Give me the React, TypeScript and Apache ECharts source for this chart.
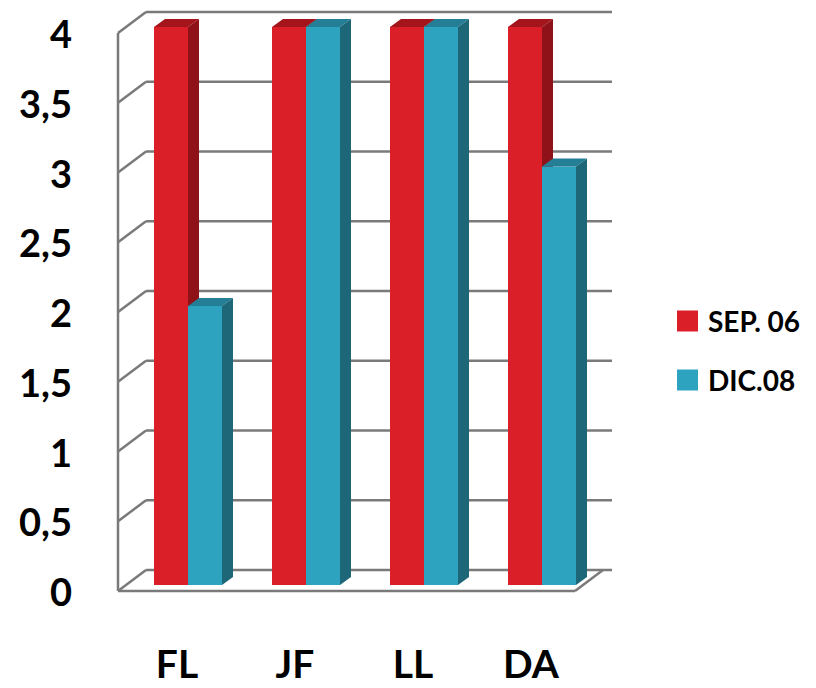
import React, { useEffect, useRef } from "react";
import * as echarts from "echarts";

const categories = ["FL", "JF", "LL", "DA"];
const seriesNames = ["SEP. 06", "DIC.08"];
const sep06 = [4, 4, 4, 4];
const dic08 = [2, 4, 4, 3];
const yTicks = [0, 0.5, 1, 1.5, 2, 2.5, 3, 3.5, 4];

const FONT = "Lato, 'Open Sans', sans-serif";
const DEPTH_X = 28;
const DEPTH_Y = -21;
const BAR_W = 34;
const BAR_DX = 11;
const BAR_DY = -8;
const PLANE_SX = 11;
const PLANE_SY = -6;

const faces = [
  { front: "#DA1F28", top: "#A3141B", side: "#8E1218" },
  { front: "#2EA3C0", top: "#237E96", side: "#1D6778" },
];

function barRender(sIdx: number) {
  return (params: any, api: any) => {
    const cat = api.value(0);
    const v = api.value(1);
    const base = api.coord([cat, 0]);
    const top = api.coord([cat, v]);
    const xL = base[0] - BAR_W + PLANE_SX + sIdx * BAR_W;
    const yT = top[1] + PLANE_SY;
    const yB = base[1] + PLANE_SY;
    const xR = xL + BAR_W;
    const c = faces[sIdx];
    return {
      type: "group",
      children: [
        {
          type: "polygon",
          shape: { points: [[xL, yT], [xR, yT], [xR, yB], [xL, yB]] },
          style: { fill: c.front },
        },
        {
          type: "polygon",
          shape: {
            points: [
              [xL, yT],
              [xL + BAR_DX, yT + BAR_DY],
              [xR + BAR_DX, yT + BAR_DY],
              [xR, yT],
            ],
          },
          style: { fill: c.top },
        },
        {
          type: "polygon",
          shape: {
            points: [
              [xR, yT],
              [xR + BAR_DX, yT + BAR_DY],
              [xR + BAR_DX, yB + BAR_DY],
              [xR, yB],
            ],
          },
          style: { fill: c.side },
        },
      ],
    };
  };
}

function wallRender(params: any, api: any) {
  const cs = params.coordSys;
  const x0 = cs.x;
  const x1 = cs.x + cs.width;
  const v = api.value(1);
  const y = api.coord([0, v])[1];
  const lineStyle = { stroke: "#7a7a7a", lineWidth: 2.5 };
  const children: any[] = [
    {
      type: "line",
      shape: { x1: x0 + DEPTH_X, y1: y + DEPTH_Y, x2: x1 + DEPTH_X - 6, y2: y + DEPTH_Y },
      style: lineStyle,
    },
    {
      type: "line",
      shape: { x1: x0, y1: y, x2: x0 + DEPTH_X, y2: y + DEPTH_Y },
      style: lineStyle,
    },
  ];
  if (params.dataIndex === 0) {
    const yTop = api.coord([0, yTicks[yTicks.length - 1]])[1];
    children.push(
      { type: "line", shape: { x1: x0, y1: yTop, x2: x0, y2: y }, style: lineStyle },
      { type: "line", shape: { x1: x0, y1: y, x2: x1 - 15, y2: y }, style: lineStyle },
      {
        type: "line",
        shape: { x1: x1 - 15, y1: y, x2: x1 - 15 + DEPTH_X, y2: y + DEPTH_Y },
        style: lineStyle,
      }
    );
  }
  return { type: "group", children };
}

export default function App() {
  const ref = useRef<HTMLDivElement>(null);
  useEffect(() => {
    if (!ref.current) return;
    const chart = echarts.init(ref.current, null, { renderer: "svg" });
    chart.setOption({
      animation: false,
      backgroundColor: "#ffffff",
      legend: {
        orient: "vertical",
        left: 672,
        top: 300,
        itemWidth: 21,
        itemHeight: 21,
        itemGap: 27,
        icon: "rect",
        data: seriesNames,
        textStyle: {
          fontFamily: FONT,
          fontSize: 28,
          fontWeight: "bold",
          color: "#000",
          lineHeight: 32,
          padding: [0, 0, 0, 5],
        },
      },
      grid: { left: 118, top: 33, width: 472, height: 558, containLabel: false },
      xAxis: {
        type: "category",
        data: categories,
        axisLine: { show: false },
        axisTick: { show: false },
        splitLine: { show: false },
        axisLabel: {
          margin: 52,
          fontFamily: FONT,
          fontSize: 39,
          fontWeight: "bold",
          color: "#000",
        },
      },
      yAxis: {
        type: "value",
        min: 0,
        max: 4,
        interval: 0.5,
        axisLine: { show: false },
        axisTick: { show: false },
        splitLine: { show: false },
        axisLabel: {
          margin: 46,
          fontFamily: FONT,
          fontSize: 38,
          fontWeight: "bold",
          color: "#000",
          formatter: (v: number) => String(v).replace(".", ","),
        },
      },
      series: [
        {
          name: "walls",
          type: "custom",
          renderItem: wallRender,
          data: yTicks.map((t) => [0, t]),
          z: 1,
          silent: true,
        },
        {
          name: seriesNames[0],
          type: "custom",
          renderItem: barRender(0),
          data: sep06.map((v, i) => [i, v]),
          itemStyle: { color: faces[0].front },
          z: 2,
        },
        {
          name: seriesNames[1],
          type: "custom",
          renderItem: barRender(1),
          data: dic08.map((v, i) => [i, v]),
          itemStyle: { color: faces[1].front },
          z: 3,
        },
      ],
    });
    return () => chart.dispose();
  }, []);
  return (
    <div
      ref={ref}
      style={{ position: "fixed", left: 0, top: 0, width: 816, height: 688 }}
    />
  );
}
